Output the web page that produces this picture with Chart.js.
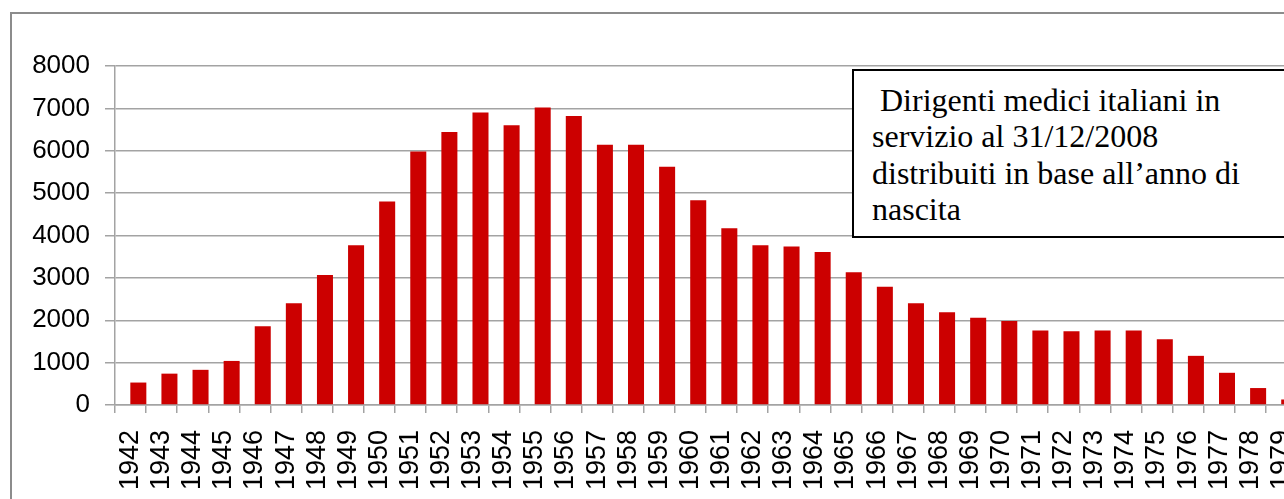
<!DOCTYPE html>
<html>
<head>
<meta charset="utf-8">
<script src="https://cdn.jsdelivr.net/npm/chart.js@4"></script>
<style>
    html, body { margin: 0; padding: 0; overflow: hidden; background: #fff; }
    #frame {
        position: absolute; left: 10px; top: 12px;
        width: 1320px; height: 540px;
        border: 2px solid #8c8c8c;
    }
    #chart { position: absolute; left: 0; top: 0; }
    #note {
        position: absolute; left: 852px; top: 69px;
        width: 470px; height: 169px;
        box-sizing: border-box;
        border: 2px solid #000; background: #fff;
        font-family: "Liberation Serif", "Times New Roman", serif;
        font-size: 32px; line-height: 36.4px; color: #000;
        padding: 11px 0 0 18px;
        white-space: pre;
    }
</style>
</head>
<body>
<div id="frame"></div>
<canvas id="chart" width="1320" height="499"></canvas>
<div id="note"> Dirigenti medici italiani in
servizio al 31/12/2008
distribuiti in base all’anno di
nascita</div>
<script>
// anno di nascita
const years = [
    '1942', '1943', '1944', '1945', '1946', '1947', '1948', '1949', '1950', '1951',
    '1952', '1953', '1954', '1955', '1956', '1957', '1958', '1959', '1960', '1961',
    '1962', '1963', '1964', '1965', '1966', '1967', '1968', '1969', '1970', '1971',
    '1972', '1973', '1974', '1975', '1976', '1977', '1978', '1979'
];
// dirigenti medici in servizio
const doctors = [
    530, 740, 830, 1040, 1860, 2400, 3070, 3770, 4800, 5980,
    6440, 6900, 6600, 7020, 6820, 6140, 6140, 5620, 4830, 4170,
    3770, 3740, 3610, 3130, 2790, 2400, 2190, 2060, 1980, 1760,
    1740, 1760, 1760, 1550, 1160, 760, 400, 130
];
const yMin = 0;
const yMax = 8000;
const yStep = 1000;

const gridGray = '#a3a3a3';

document.addEventListener("DOMContentLoaded", () => {
    const ctx = document.getElementById("chart").getContext("2d");

    // bars in the original sit in the right half of each category,
    // so an empty dataset takes the left half
    new Chart(ctx, {
        type: "bar",
        data: {
            labels: years,
            datasets: [{
                data: years.map(() => null),
                backgroundColor: 'rgba(0,0,0,0)'
            }, {
                data: doctors,
                backgroundColor: '#cc0000',
                borderWidth: 0
            }]
        },
        options: {
            responsive: false,
            animation: false,
            devicePixelRatio: 1,
            datasets: {
                bar: { barPercentage: 1.03, categoryPercentage: 1 }
            },
            layout: {
                padding: { left: 0, right: 23, top: 66, bottom: 0 }
            },
            plugins: {
                legend: { display: false },
                tooltip: { enabled: false }
            },
            scales: {
                x: {
                    grid: {
                        display: true,
                        drawOnChartArea: false,
                        drawTicks: true,
                        tickLength: 8,
                        color: gridGray,
                        lineWidth: 1.5,
                        offset: true
                    },
                    border: { color: gridGray, width: 1.5 },
                    ticks: {
                        color: '#000',
                        autoSkip: false,
                        minRotation: 90,
                        maxRotation: 90,
                        padding: 17,
                        font: { family: 'Liberation Sans', size: 27 }
                    },
                    afterFit: (scale) => {
                        scale.height = 94;
                        scale.paddingLeft = 0;
                        scale.paddingRight = 0;
                    }
                },
                y: {
                    min: yMin,
                    max: yMax,
                    grid: {
                        color: gridGray,
                        lineWidth: 1.5,
                        tickLength: 10
                    },
                    border: { color: gridGray, width: 1.5 },
                    ticks: {
                        stepSize: yStep,
                        color: '#000',
                        padding: 15,
                        font: { family: 'Liberation Sans', size: 26 },
                        callback: (value) => String(value)
                    },
                    afterFit: (scale) => { scale.width = 115; }
                }
            }
        }
    });
});
</script>
</body>
</html>
